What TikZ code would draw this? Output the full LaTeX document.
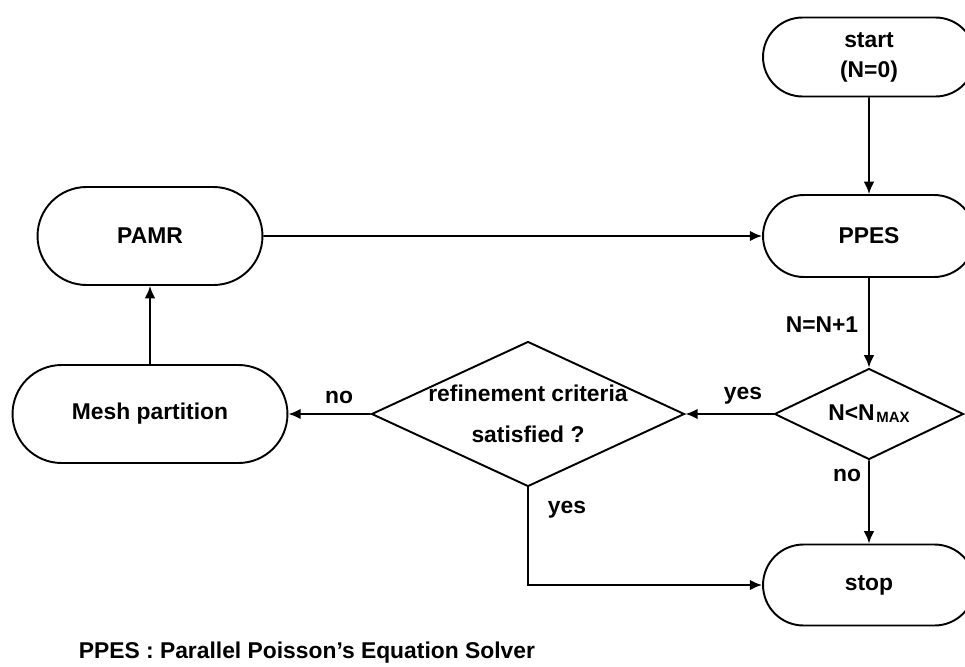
\documentclass[tikz,border=0pt]{standalone}
\usepackage{fontspec}
\setmainfont{Liberation Sans}
\usetikzlibrary{shapes.misc,shapes.geometric,arrows.meta}

\begin{document}
\begin{tikzpicture}[x=0.02cm,y=-0.02cm,line width=1.1pt,
		>={Latex[length=7pt,width=6pt]},
		font=\fontsize{13}{15}\selectfont\bfseries,
		term/.style={rounded rectangle,draw,inner sep=0pt,align=center},
		cond/.style={diamond,draw,align=center}]
		
		\useasboundingbox (0,0) rectangle (965,667);
		
		% right column
		\node (start) at (869,57) [term,minimum width=4.24cm,minimum height=1.58cm] {start\\[2pt](N=0)};
		\node (ppes) at (869,236) [term,minimum width=4.24cm,minimum height=1.64cm] {PPES};
		\node (nmax) at (869,414) [cond,inner sep=0pt,aspect=2,minimum width=3.78cm,minimum height=1.82cm] {N<N\kern1pt\raisebox{-1pt}{\fontsize{8.5}{9}\selectfont MAX}};
		\node (stop) at (869,585) [term,minimum width=4.24cm,minimum height=1.62cm] {stop};
		
		% left part
		\node (refine) at (528,414) [cond,inner sep=-6pt,aspect=2.16,minimum width=6.26cm,minimum height=2.9cm] {refinement criteria\\[8pt]satisfied ?};
		\node (mesh) at (150,414) [term,minimum width=5.5cm,minimum height=1.96cm] {Mesh partition};
		\node (pamr) at (150,236) [term,minimum width=4.5cm,minimum height=1.96cm] {PAMR};
		
		% labels
		\node (inc) at (822,325) {N=N+1};
		\node (yes1) at (743,396) {yes};
		\node (no1) at (339,397) {no};
		\node (no2) at (847,475) {no};
		\node (yes2) at (567,510) {yes};
		\node (note) at (72,653) [anchor=west] {PPES : Parallel Poisson’s Equation Solver};
		
		\draw[->] (start) -- (ppes);
		\draw[->] (ppes) -- (nmax);
		\draw[->] (nmax) -- (refine);
		\draw[->] (refine) -- (mesh);
		\draw[->] (mesh) -- (pamr);
		\draw[->] (pamr) -- (ppes);
		\draw[->] (nmax) -- (stop);
		\draw[->] (refine.south) |- (stop.west);
		
	\end{tikzpicture}
\end{document}
